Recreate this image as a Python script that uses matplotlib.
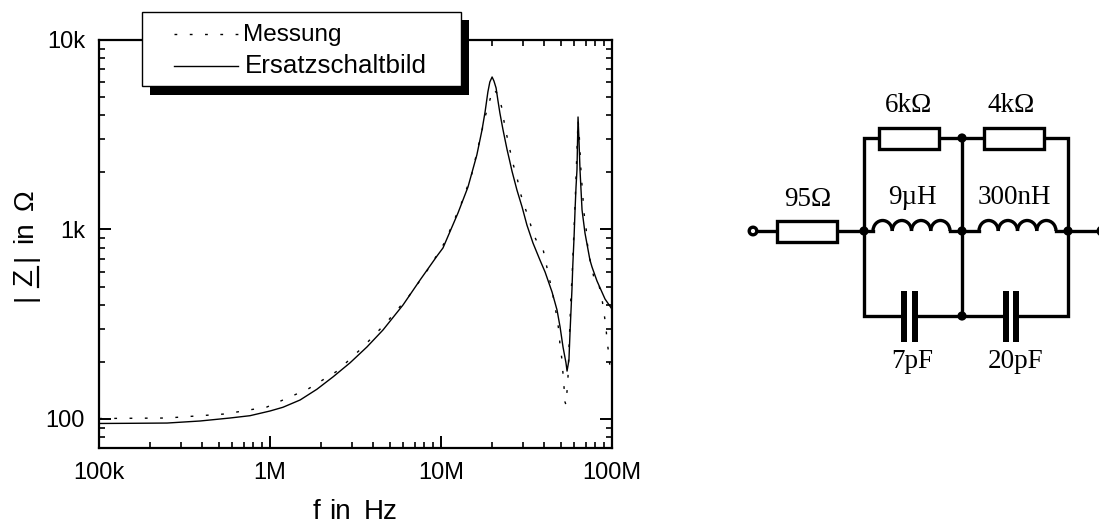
"""Impedance measurement vs. equivalent circuit, with the circuit schematic."""

import matplotlib
matplotlib.use("Agg")

import matplotlib.patches as mpatches
import matplotlib.pyplot as plt
import numpy as np
from matplotlib.ticker import FixedFormatter, FixedLocator, LogLocator, NullFormatter

plt.rcParams["font.family"] = ["Liberation Sans", "DejaVu Sans"]

# ── Data ──────────────────────────────────────────────────────────────────────
FREQ_MODEL_MHZ = [
    0.1, 0.152, 0.25, 0.39, 0.583, 0.764, 1.0, 1.19, 1.5, 1.88, 2.34, 2.94,
    3.69, 4.58, 6.0, 7.54, 9.48, 10.27, 12.57, 14.38, 16.2, 17.37, 18.1, 18.8,
    19.3, 19.9, 20.4, 21.0, 21.5, 22.1, 23.0, 24.3, 25.3, 26.0, 27.8, 29.8,
    31.8, 34.5, 37.9, 40.6, 44.6, 47.7, 49.7, 51.7, 53.8, 54.6, 56.0, 56.8,
    57.6, 58.3, 59.0, 60.0, 60.8, 61.6, 62.4, 62.9, 63.3, 64.1, 65.0, 65.9,
    66.8, 69.5, 74.3, 76.4, 81.7, 91.0, 100,
]
Z_MODEL = [
    94.7, 94.9, 95.2, 97.6, 101.2, 104.1, 110.2, 115.3, 126, 143.5, 167, 198,
    240, 295, 400, 541, 725, 799, 1222, 1676, 2472, 3350, 4170, 5317,
    6004, 6380, 6076, 5580, 4824, 4119, 3391, 2659, 2271, 2035, 1616, 1314,
    1056, 849, 690, 597, 468, 376, 306, 240, 198, 179, 205, 284,
    376, 479, 650, 913, 1268, 1676, 2061, 2967, 3924, 2967, 2061, 1616,
    1268, 958, 690, 634, 535, 430, 380,
]
FREQ_MEAS_MHZ = [
    0.1, 0.25, 0.546, 0.96, 1.67, 2.47, 3.5, 4.83, 6.5, 8.51, 10.55, 13.4,
    15.2, 18.1, 19.1, 20.1, 21.5, 22.7, 23.4, 24.3, 25.3, 26.4, 27.8, 29.0,
    30.6, 32.7, 34.5, 36.9, 39.5, 41.1, 42.8, 44.6, 47.7, 49.0, 49.7, 51.0,
    51.7, 52.4, 53.1, 53.8, 54.6, 55.3, 56.0, 56.8, 57.6, 58.3, 60.8, 62.4,
    63.3, 64.1, 65.9, 67.7, 68.6, 70.5, 71.4, 73.4, 79.6, 83.9, 87.4, 89.8,
    92.2, 93.5, 96.0, 97.3, 100,
]
Z_MEAS = [
    100.6, 101.2, 106.3, 115.7, 144, 179, 240, 325, 446, 627, 859, 1432,
    1986, 3924, 4650, 5510, 5190, 4380, 3693, 3110, 2627, 2216, 1892, 1577,
    1347, 1136, 958, 839, 789, 666, 561, 479, 341, 288, 243, 205,
    173, 148, 123, 119, 141, 167, 234, 325, 462, 541, 1347, 2627,
    3785, 3350, 2011, 1448, 1222, 1031, 870, 734, 522, 509, 430, 363,
    306, 258, 218, 186, 164,
]

X_TICKS_HZ = [1e5, 1e6, 1e7, 1e8]
X_TICK_LABELS = ["100k", "1M", "10M", "100M"]
Y_TICKS = [100, 1000, 10000]
Y_TICK_LABELS = ["100", "1k", "10k"]

# ── Config ────────────────────────────────────────────────────────────────────
WIDTH, HEIGHT = 1099, 526
PLOT_LEFT, PLOT_RIGHT, PLOT_TOP, PLOT_BOTTOM = 99, 612, 40, 448
WIRE_LW = 2.4
SERIF = ["Liberation Serif", "DejaVu Serif"]
DOTTED = (0, (2.0, 9.0))

fig = plt.figure(figsize=(WIDTH / 100, HEIGHT / 100), dpi=100, facecolor="white")

# ── Chart ─────────────────────────────────────────────────────────────────────
ax = fig.add_axes([
    PLOT_LEFT / WIDTH,
    1 - PLOT_BOTTOM / HEIGHT,
    (PLOT_RIGHT - PLOT_LEFT) / WIDTH,
    (PLOT_BOTTOM - PLOT_TOP) / HEIGHT,
])
freq_model = np.array(FREQ_MODEL_MHZ) * 1e6
freq_meas = np.array(FREQ_MEAS_MHZ) * 1e6
ax.plot(freq_meas, Z_MEAS, color="black", lw=1.0, ls=DOTTED)
ax.plot(freq_model, Z_MODEL, color="black", lw=1.0)

ax.set_xscale("log")
ax.set_yscale("log")
ax.set_xlim(1e5, 1e8)
ax.set_ylim(70.3, 1e4)

ax.xaxis.set_major_locator(FixedLocator(X_TICKS_HZ))
ax.xaxis.set_major_formatter(FixedFormatter(X_TICK_LABELS))
ax.yaxis.set_major_locator(FixedLocator(Y_TICKS))
ax.yaxis.set_major_formatter(FixedFormatter(Y_TICK_LABELS))
for axis in (ax.xaxis, ax.yaxis):
    axis.set_minor_locator(LogLocator(base=10, subs=np.arange(2, 10), numticks=12))
    axis.set_minor_formatter(NullFormatter())

ax.tick_params(which="both", direction="in", top=True, right=True, color="black")
ax.tick_params(which="major", length=8.5, width=1.4, labelsize=17, pad=10)
ax.tick_params(which="minor", length=4.5, width=1.2)
for spine in ax.spines.values():
    spine.set_linewidth(1.6)

# ── Overlay in pixel coordinates: axis titles, legend, schematic ──────────────
ov = fig.add_axes([0, 0, 1, 1], zorder=5)
ov.set_xlim(0, WIDTH)
ov.set_ylim(HEIGHT, 0)
ov.axis("off")

# x title, word by word because the reference has wide word gaps
for wx, word in [(313, "f"), (329, "in"), (364, "Hz")]:
    ov.text(wx, 519, word, fontsize=20, ha="left", va="baseline")

# y title with underlined Z
for wy, word in [(200, "Ω"), (232, "in"), (257, "|"), (277, "Z"), (297, "|")]:
    ov.text(25.5, wy, word, fontsize=20, rotation=90, ha="center", va="center")
ov.plot([38, 38], [267, 287], color="black", lw=1.6)

# Legend with hard shadow
ov.add_patch(mpatches.Rectangle((150, 20), 319, 75, fc="black", ec="black", lw=0))
ov.add_patch(mpatches.Rectangle((142, 12), 319, 74, fc="white", ec="black", lw=1.0))
ov.plot([174, 238], [34, 34], color="black", lw=1.0, ls=DOTTED)
ov.plot([174, 238], [66, 66], color="black", lw=1.0)
ov.text(243, 35, "Messung", fontsize=17.5, va="center")
ov.text(245, 66, "Ersatzschaltbild", fontsize=18.7, va="center")


def wire(xs, ys):
    ov.plot(xs, ys, color="black", lw=WIRE_LW, solid_capstyle="projecting",
            solid_joinstyle="miter", clip_on=False)


def resistor(x0, x1, y):
    ov.add_patch(mpatches.Rectangle((x0, y - 10.5), x1 - x0, 21, fc="white",
                                    ec="black", lw=WIRE_LW, zorder=3))


def inductor(x0, x1, y, turns=4):
    step = (x1 - x0) / turns
    for i in range(turns):
        ov.add_patch(mpatches.Arc((x0 + step * (i + 0.5), y), step, 21,
                                  theta1=180, theta2=360, color="black",
                                  lw=WIRE_LW, zorder=3))


def capacitor(x0, x1, y):
    ov.add_patch(mpatches.Rectangle((x0 + 5.5, y - 25), x1 - x0 - 5.5, 51, fc="white",
                                    ec="none", zorder=2.5))
    for x in (x0, x1):
        ov.add_patch(mpatches.Rectangle((x, y - 25), 5.5, 51, fc="black", ec="none", zorder=3))


def node(x, y):
    ov.add_patch(mpatches.Circle((x, y), 4.6, fc="black", ec="none", zorder=4))


def terminal(x, y):
    ov.add_patch(mpatches.Circle((x, y), 3.8, fc="white", ec="black", lw=WIRE_LW,
                                 zorder=4, clip_on=False))


# Wires
wire([753, 873], [231, 231])
wire([950, 979], [231, 231])
wire([1056, 1100], [231, 231])
wire([864, 864, 1068, 1068, 864, 864], [231, 138, 138, 316, 316, 231])
wire([962, 962], [138, 316])

# Components
resistor(777, 837, 231)
resistor(879, 939, 138)
resistor(984, 1044, 138)
inductor(873, 950, 231)
inductor(979, 1056, 231)
capacitor(901, 912, 316)
capacitor(1003, 1013, 316)

for nx, ny in [(864, 231), (962, 231), (1068, 231), (962, 138), (962, 316)]:
    node(nx, ny)
terminal(753, 231)
terminal(1102, 231)

# Component labels
SCHEMATIC_LABELS = [
    (808, 199, "95Ω"), (908, 106, "6kΩ"), (1011, 106, "4kΩ"),
    (912, 198, "9µH"), (1014, 198, "300nH"), (912, 361, "7pF"), (1016, 361, "20pF"),
]
for lx, ly, text in SCHEMATIC_LABELS:
    ov.text(lx, ly, text, family=SERIF, fontsize=19.5, ha="center", va="center")

fig.savefig("out.png", dpi=100, facecolor="white")
